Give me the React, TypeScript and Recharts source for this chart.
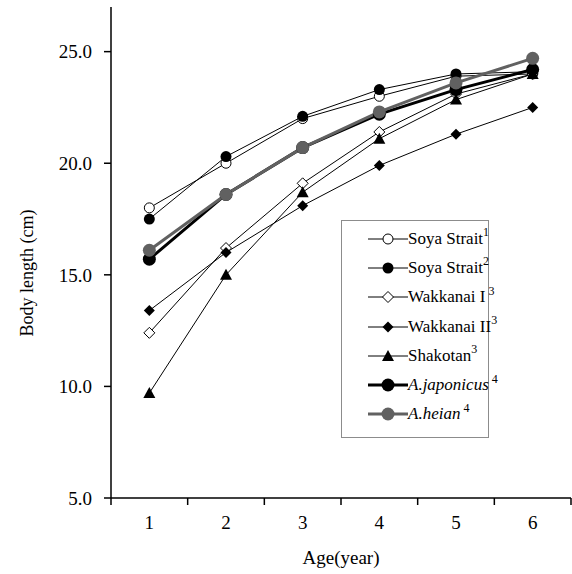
import React from "react";
import { Label, Legend, Line, LineChart, XAxis, YAxis } from "recharts";

// Body length (cm) by age.
const AGES = [1, 2, 3, 4, 5, 6];
const SOYA_1 = [18.0, 20.0, 22.0, 23.0, 23.9, 24.0];
const SOYA_2 = [17.5, 20.3, 22.1, 23.3, 24.0, 24.1];
const WAKKANAI_1 = [12.4, 16.2, 19.1, 21.4, 23.1, 24.0];
const WAKKANAI_2 = [13.4, 16.0, 18.1, 19.9, 21.3, 22.5];
const SHAKOTAN = [9.7, 15.0, 18.7, 21.1, 22.85, 24.0];
const JAPONICUS = [15.7, 18.6, 20.7, 22.2, 23.3, 24.2];
const HEIAN = [16.1, 18.6, 20.7, 22.3, 23.6, 24.7];

const Y_TICKS = [5, 10, 15, 20, 25];
const X_TICKS = [0.5, 1.5, 2.5, 3.5, 4.5, 5.5, 6.5];

const FONT = '"Liberation Serif", "Times New Roman", serif';
const GREY = "#616161";
const W = 572;
const H = 574;
const BAND = (W - 111 - 1) / 6;

type Marker = "openCircle" | "circle" | "openDiamond" | "diamond" | "triangle" | "bigCircle";

const SERIES: {
  key: string;
  values: number[];
  marker: Marker;
  color: string;
  width: number;
  name: string;
  sup: string;
  italic?: boolean;
}[] = [
  { key: "soya1", values: SOYA_1, marker: "openCircle", color: "#000", width: 1, name: "Soya Strait", sup: "1" },
  { key: "soya2", values: SOYA_2, marker: "circle", color: "#000", width: 1, name: "Soya Strait", sup: "2" },
  { key: "wak1", values: WAKKANAI_1, marker: "openDiamond", color: "#000", width: 1, name: "Wakkanai I", sup: " 3" },
  { key: "wak2", values: WAKKANAI_2, marker: "diamond", color: "#000", width: 1, name: "Wakkanai II", sup: "3" },
  { key: "shak", values: SHAKOTAN, marker: "triangle", color: "#000", width: 1, name: "Shakotan", sup: "3" },
  { key: "jap", values: JAPONICUS, marker: "bigCircle", color: "#000", width: 3, name: "A.japonicus", sup: " 4", italic: true },
  { key: "heian", values: HEIAN, marker: "bigCircle", color: GREY, width: 3, name: "A.heian", sup: " 4", italic: true },
];

const rows = AGES.map((age, i) => {
  const row: Record<string, number> = { age };
  SERIES.forEach((s) => (row[s.key] = s.values[i]));
  return row;
});

function drawMarker(kind: Marker, cx: number, cy: number, color: string, key?: string) {
  switch (kind) {
    case "openCircle":
      return <circle key={key} cx={cx} cy={cy} r={5} fill="#fff" stroke="#000" strokeWidth={1} />;
    case "circle":
      return <circle key={key} cx={cx} cy={cy} r={5.5} fill="#000" />;
    case "bigCircle":
      return <circle key={key} cx={cx} cy={cy} r={6.5} fill={color} />;
    case "openDiamond":
      return (
        <polygon
          key={key}
          points={`${cx},${cy - 5.5} ${cx + 5.5},${cy} ${cx},${cy + 5.5} ${cx - 5.5},${cy}`}
          fill="#fff"
          stroke="#000"
          strokeWidth={1}
        />
      );
    case "diamond":
      return (
        <polygon
          key={key}
          points={`${cx},${cy - 5.5} ${cx + 5.5},${cy} ${cx},${cy + 5.5} ${cx - 5.5},${cy}`}
          fill="#000"
        />
      );
    default:
      return (
        <polygon key={key} points={`${cx},${cy - 6} ${cx + 6},${cy + 5} ${cx - 6},${cy + 5}`} fill="#000" />
      );
  }
}

const XTick = ({ x, y, payload }: any) => {
  if (payload.value > 6) return null;
  return (
    <text x={x + BAND / 2} y={y + 22} textAnchor="middle" fontFamily={FONT} fontSize={19} fill="#000">
      {payload.value + 0.5}
    </text>
  );
};

const renderLegend = () => (
  <div
    style={{
      boxSizing: "border-box",
      width: 148,
      height: 218,
      border: "1px solid #8c8c8c",
      background: "#fff",
      paddingTop: 3,
      fontFamily: FONT,
      fontSize: 17,
      color: "#000",
    }}
  >
    {SERIES.map((s) => (
      <div key={s.key} style={{ display: "flex", alignItems: "center", height: 29.3, whiteSpace: "nowrap" }}>
        <svg width={40} height={20} style={{ marginLeft: 26, flex: "none" }}>
          <line x1={0} y1={10} x2={40} y2={10} stroke={s.color} strokeWidth={s.width === 1 ? 1 : 3} />
          {drawMarker(s.marker, 20, 10, s.color)}
        </svg>
        <span style={{ fontStyle: s.italic ? "italic" : "normal" }}>{s.name}</span>
        <span style={{ fontSize: 12, position: "relative", top: -6, whiteSpace: "pre" }}>{s.sup}</span>
      </div>
    ))}
  </div>
);

export default function App() {
  return (
    <div style={{ position: "absolute", left: 0, top: 0, width: W, height: H, background: "#fff" }}>
      <LineChart width={W} height={H} data={rows} margin={{ top: 7, right: 1, bottom: 0, left: 0 }}>
        <XAxis
          dataKey="age"
          type="number"
          domain={[0.5, 6.5]}
          ticks={X_TICKS}
          interval={0}
          height={76}
          axisLine={{ stroke: "#000", strokeWidth: 1.5 }}
          tickLine={{ stroke: "#000", strokeWidth: 1.5 }}
          tickSize={7}
          tick={<XTick />}
        >
          <Label
            value="Age(year)"
            position="insideBottom"
            offset={10}
            style={{ fontFamily: FONT, fontSize: 19, fill: "#000" }}
          />
        </XAxis>
        <YAxis
          type="number"
          domain={[5, 27]}
          ticks={Y_TICKS}
          interval={0}
          width={111}
          allowDataOverflow
          axisLine={{ stroke: "#000", strokeWidth: 1.5 }}
          tickLine={{ stroke: "#000", strokeWidth: 1.5 }}
          tickSize={7}
          tickMargin={12}
          tickFormatter={(v: number) => v.toFixed(1)}
          tick={{ fontFamily: FONT, fontSize: 19, fill: "#000" }}
        >
          <Label
            content={() => (
              <text
                x={27}
                y={273}
                transform="rotate(-90, 27, 273)"
                textAnchor="middle"
                dominantBaseline="central"
                fontFamily={FONT}
                fontSize={18}
                fill="#000"
              >
                Body length (cm)
              </text>
            )}
          />
        </YAxis>
        <Legend
          layout="vertical"
          align="center"
          verticalAlign="middle"
          content={renderLegend}
          wrapperStyle={{ left: 341, top: 220, width: 148, height: 218 }}
        />
        {SERIES.map((s) => (
          <Line
            key={s.key}
            dataKey={s.key}
            name={s.name}
            stroke={s.color}
            strokeWidth={s.width}
            isAnimationActive={false}
            dot={(p: any) => drawMarker(s.marker, p.cx, p.cy, s.color, `${s.key}-${p.index}`)}
            activeDot={false}
          />
        ))}
      </LineChart>
    </div>
  );
}
